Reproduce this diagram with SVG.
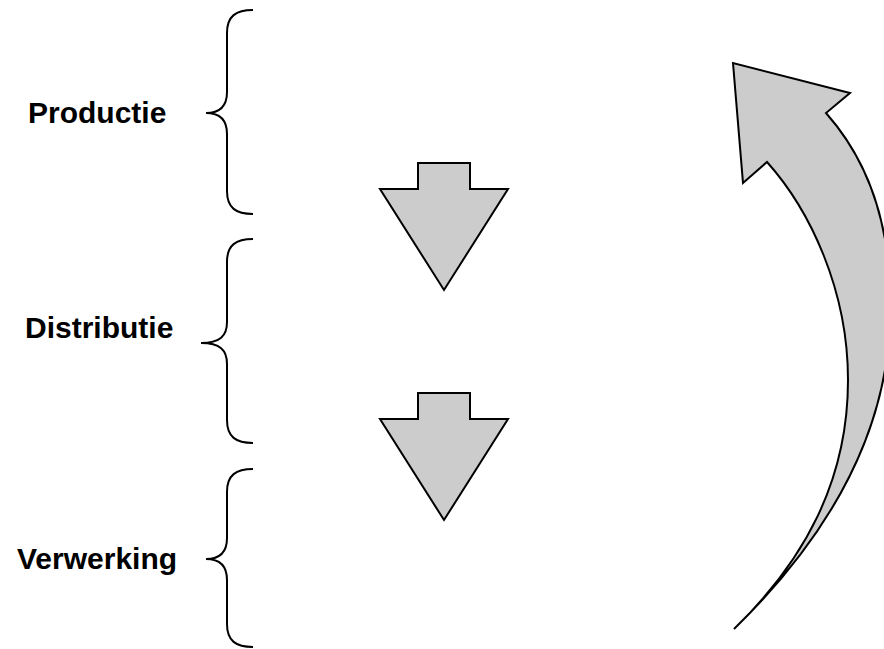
<svg xmlns="http://www.w3.org/2000/svg" width="884" height="649" viewBox="0 0 884 649">
<style>
.lbl{font-family:"Liberation Sans",Arial,sans-serif;font-weight:bold;font-size:30px;fill:#000}
.brace{fill:none;stroke:#000;stroke-width:2}
.shape{fill:#cccccc;stroke:#000;stroke-width:2;stroke-linejoin:miter}
</style>
<rect width="884" height="649" fill="#fff"/>
<g id="productie">
<text class="lbl" x="28" y="123">Productie</text>
<path class="brace" d="M 253 10 C 236 10 227 16 227 33 L 227 92 C 227 106 220 113 206 113 C 220 113 227 120 227 134 L 227 191 C 227 208 236 214 253 214"/>
</g>
<g id="distributie">
<text class="lbl" x="25" y="338">Distributie</text>
<path class="brace" d="M 253 239 C 236 239 227 245 227 262 L 227 322 C 227 336 220 343 201 343 C 220 343 227 350 227 364 L 227 420 C 227 437 236 443 253 443"/>
</g>
<g id="verwerking">
<text class="lbl" x="17" y="569">Verwerking</text>
<path class="brace" d="M 253 469 C 236 469 227 475 227 492 L 227 538 C 227 552 220 559 206 559 C 220 559 227 566 227 580 L 227 624 C 227 641 236 647 253 647"/>
</g>
<g id="arrow-down-1">
<path class="shape" d="M 418 163 L 470 163 L 470 189 L 508 189 L 444 290 L 380 189 L 418 189 Z"/>
</g>
<g id="arrow-down-2">
<path class="shape" d="M 418 393 L 470 393 L 470 419 L 508 419 L 444 520 L 380 419 L 418 419 Z"/>
</g>
<g id="connectors">
<path class="shape" d="M 734 629 C 815 550 894 440 890 300 C 890 230 872 165 826 113 L 850 93 L 733 63 L 743 183 L 767 162 C 810 210 848 290 848 380 C 848 480 805 560 734 629 Z"/>
</g>
</svg>
